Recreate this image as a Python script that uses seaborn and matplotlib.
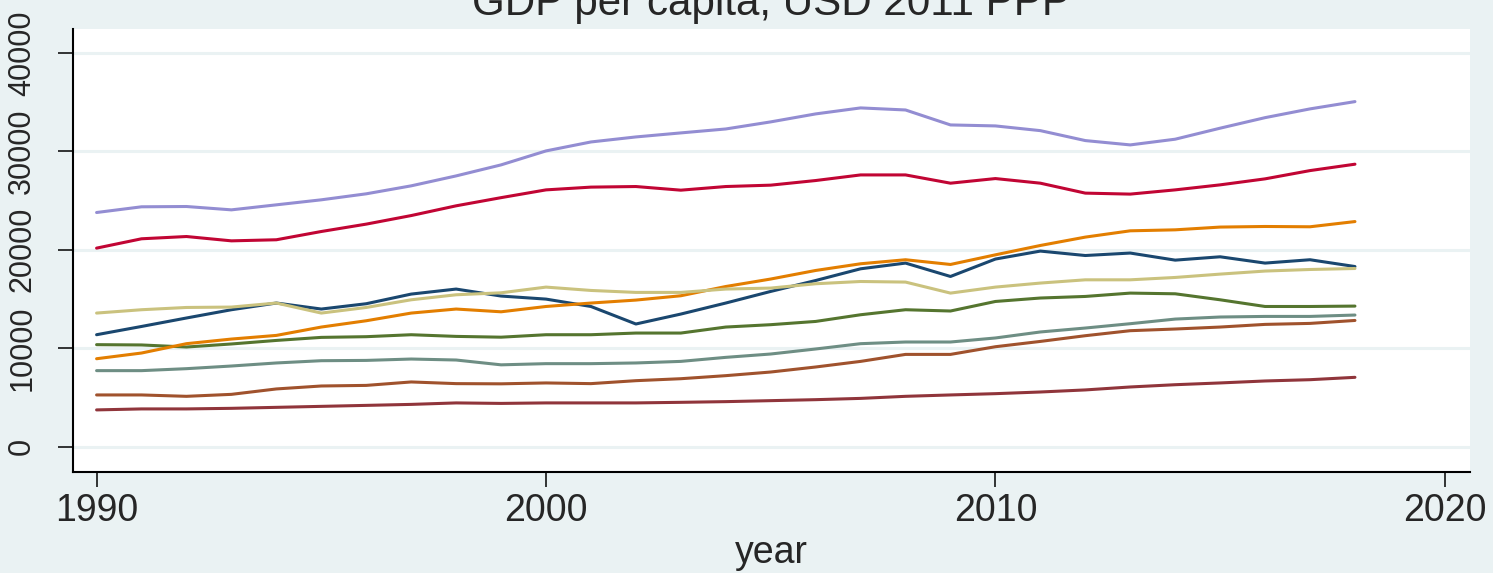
import matplotlib
matplotlib.use("Agg")
import matplotlib.pyplot as plt
import numpy as np
import pandas as pd
import seaborn as sns

years = list(range(1990, 2019))

navy = [11370, 12210, 13070, 13910, 14590, 13980, 14520, 15500, 16010, 15300,
        14990, 14240, 12460, 13470, 14590, 15770, 16880, 18070, 18650, 17290,
        19060, 19870, 19420, 19670, 18950, 19290, 18650, 18990, 18300]
maroon = [3730, 3830, 3830, 3890, 3990, 4090, 4190, 4290, 4440, 4390,
          4440, 4440, 4440, 4500, 4570, 4670, 4770, 4900, 5110, 5250,
          5380, 5550, 5760, 6060, 6290, 6470, 6670, 6800, 7040]
forest = [10360, 10330, 10120, 10430, 10790, 11100, 11170, 11370, 11200, 11120,
          11370, 11370, 11540, 11540, 12150, 12390, 12720, 13400, 13910, 13780,
          14750, 15100, 15260, 15600, 15530, 14920, 14240, 14240, 14280]
dkorange = [8930, 9510, 10460, 10930, 11300, 12150, 12790, 13570, 13980, 13700,
            14240, 14590, 14890, 15330, 16270, 17030, 17900, 18580, 18990, 18510,
            19490, 20440, 21290, 21930, 22030, 22310, 22370, 22340, 22870]
teal = [7720, 7720, 7920, 8190, 8500, 8730, 8760, 8900, 8800, 8310,
        8430, 8430, 8500, 8660, 9070, 9410, 9920, 10460, 10630, 10630,
        11040, 11650, 12050, 12490, 12960, 13170, 13230, 13230, 13370]
cranberry = [20170, 21120, 21350, 20910, 21020, 21860, 22610, 23480, 24470, 25300,
             26090, 26370, 26430, 26060, 26430, 26570, 27040, 27610, 27610, 26770,
             27240, 26770, 25760, 25660, 26090, 26600, 27210, 28050, 28700]
lavender = [23790, 24370, 24400, 24060, 24570, 25080, 25690, 26500, 27510, 28630,
            30050, 30960, 31470, 31880, 32280, 33000, 33810, 34420, 34210, 32690,
            32590, 32110, 31100, 30660, 31240, 32360, 33430, 34320, 35060]
khaki = [13570, 13910, 14140, 14180, 14590, 13570, 14140, 14920, 15430, 15630,
         16210, 15870, 15670, 15670, 16010, 16110, 16550, 16780, 16720, 15600,
         16210, 16620, 16950, 16950, 17190, 17530, 17840, 18000, 18100]
sienna = [5250, 5250, 5110, 5310, 5860, 6160, 6220, 6570, 6400, 6380,
          6470, 6400, 6700, 6900, 7210, 7580, 8090, 8660, 9370, 9370,
          10150, 10690, 11270, 11780, 11950, 12150, 12420, 12520, 12820]

series_names = ["navy", "maroon", "forest", "dkorange", "teal",
                "cranberry", "lavender", "khaki", "sienna"]
series_vals = [navy, maroon, forest, dkorange, teal, cranberry, lavender, khaki, sienna]
colors = ["#1a476f", "#90353b", "#55752f", "#e37e00", "#6e8e84",
          "#c10534", "#938dd2", "#cac27e", "#a0522d"]

y_ticks = [0, 10000, 20000, 30000, 40000]
x_ticks = [1990, 2000, 2010, 2020]

df = pd.DataFrame({
    "year": years * len(series_names),
    "gdp": [v for s in series_vals for v in s],
    "country": [n for n in series_names for _ in years],
})

sns.set_style("white")
plt.rcParams["font.family"] = ["Liberation Sans", "DejaVu Sans"]

bg = "#EAF2F3"
fig = plt.figure(figsize=(14.93, 5.73), dpi=100, facecolor=bg)
ax = fig.add_axes([73 / 1493, 1 - 471.5 / 573, (1470 - 73) / 1493, (471.5 - 28.5) / 573])
ax.set_facecolor("white")

sns.lineplot(data=df, x="year", y="gdp", hue="country", hue_order=series_names,
             palette=dict(zip(series_names, colors)), linewidth=2.2,
             legend=False, ax=ax)

ax.set_xlim(1989.475, 2020.56)
ax.set_ylim(-2530, 42490)
ax.set_xticks(x_ticks)
ax.set_yticks(y_ticks)
ax.set_yticklabels([str(t) for t in y_ticks])
ax.set_xticklabels([str(t) for t in x_ticks])

ax.yaxis.grid(True, color=bg, linewidth=2.2)
ax.xaxis.grid(False)
ax.set_axisbelow(True)

for side in ["top", "right"]:
    ax.spines[side].set_visible(False)
for side in ["left", "bottom"]:
    ax.spines[side].set_color("black")
    ax.spines[side].set_linewidth(1.5)

ax.tick_params(axis="both", direction="out", length=10.8, width=1.1, color="black",
               left=True, bottom=True)
ax.tick_params(axis="x", labelsize=27, pad=5)
ax.tick_params(axis="y", labelsize=22, pad=15, labelrotation=90)
for lab in ax.get_yticklabels():
    lab.set_va("center")

ax.set_ylabel("")
ax.set_xlabel("year", fontsize=27)
ax.xaxis.label.set_va("baseline")
ax.xaxis.set_label_coords(0.5, (471.5 - 563) / 443)

ax.set_title("GDP per capita, USD 2011 PPP", fontsize=30.3, y=(471.5 - 15) / 443, pad=0)

fig.savefig("out.png", dpi=100, facecolor=bg)
